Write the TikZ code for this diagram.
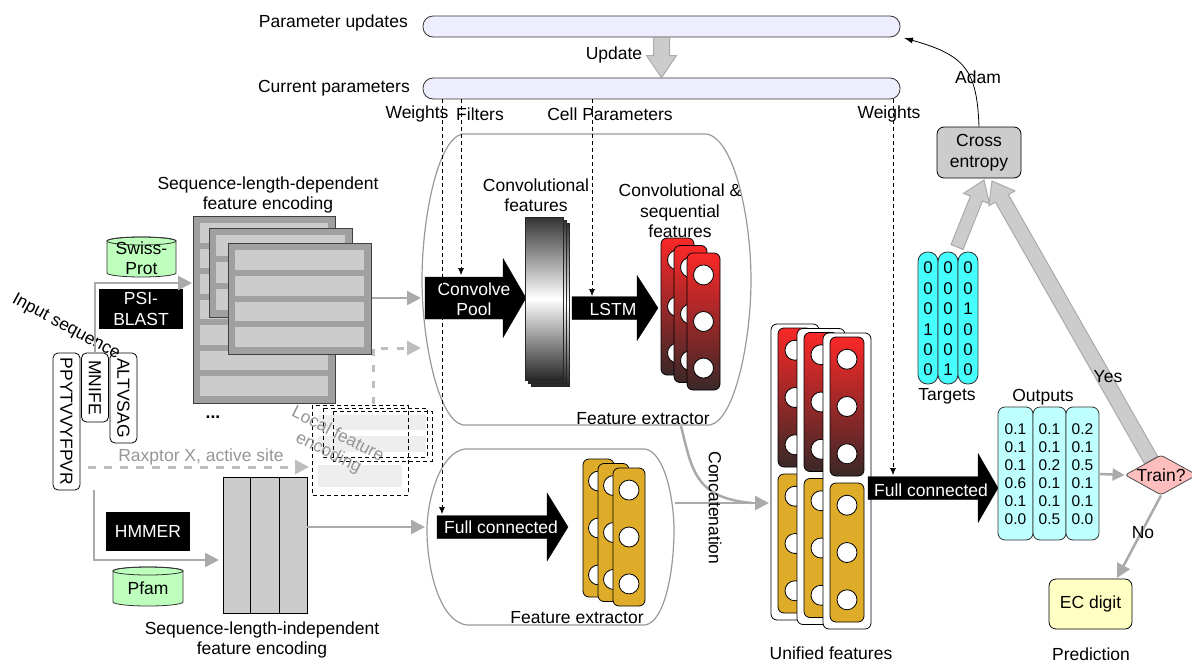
\documentclass[tikz,border=0pt]{standalone}
\usepackage{fontspec}
\setmainfont{Liberation Sans}
\usetikzlibrary{calc,arrows.meta,shapes.geometric}

\definecolor{barfill}{RGB}{238,238,255}
\definecolor{lightgr}{RGB}{204,204,204}
\definecolor{midgr}{RGB}{170,170,170}
\definecolor{dashgr}{RGB}{190,190,190}
\definecolor{framegr}{RGB}{160,160,160}
\definecolor{dbgreen}{RGB}{190,255,190}
\definecolor{gold}{RGB}{222,172,40}
\definecolor{redtop}{RGB}{250,40,40}
\definecolor{redbot}{RGB}{58,40,40}
\definecolor{tcyan}{RGB}{70,255,255}
\definecolor{ocyan}{RGB}{190,255,255}
\definecolor{pinkd}{RGB}{255,190,190}
\definecolor{ecyellow}{RGB}{255,255,196}
\definecolor{ltxt}{RGB}{150,150,150}
\definecolor{rowgr}{RGB}{238,238,238}

% block arrow: style, from, to, shaft half width, head half width, head length
\newcommand\fatarrow[6]{%
  \coordinate (fa-h) at ($(#3)!#6!(#2)$);
  \draw[#1] ($(#2)!#4!90:(#3)$) -- ($(fa-h)!#4!90:(#3)$) -- ($(fa-h)!#5!90:(#3)$) -- (#3)
    -- ($(fa-h)!#5!-90:(#3)$) -- ($(fa-h)!#4!-90:(#3)$) -- ($(#2)!#4!-90:(#3)$) -- cycle;}

% encoding frame with light rows: x0 y0 x1 y1 rows
\newcommand\encframe[5]{%
  \filldraw[fill=framegr, draw=black!75, line width=1pt] (#1,#2) rectangle (#3,#4);
  \pgfmathsetmacro\encrh{((#4-#2)-14-(#5-1)*6)/#5}
  \foreach \ri in {1,...,#5} {
    \fill[lightgr] ({#1+7},{#2+7+(\ri-1)*(\encrh+6)}) rectangle ({#3-7},{#2+7+(\ri-1)*(\encrh+6)+\encrh});
  }}

% database cylinder: x0 y0 x1 y1
\newcommand\dbcyl[4]{%
  \pgfmathsetmacro\cylcx{(#1+#3)/2}
  \pgfmathsetmacro\cylrx{(#3-#1)/2}
  \filldraw[fill=dbgreen, draw=black!80, line width=0.8pt] (#1,{#2+4}) -- (#1,{#4-4})
    arc[start angle=180, end angle=360, x radius=\cylrx pt, y radius=4pt] -- (#3,{#2+4})
    arc[start angle=0, end angle=180, x radius=\cylrx pt, y radius=4pt] -- cycle;
  \draw[black!80, line width=0.8pt] (\cylcx,{#2+4}) ellipse[x radius=\cylrx pt, y radius=4pt];}

% convolution slab: x0 y0 x1 y1
\newcommand\convslab[4]{%
  \shade[top color=black!80, bottom color=black!85, middle color=white] (#1,#2) rectangle (#3,#4);
  \draw[black!85, line width=0.5pt] (#1,#2) rectangle (#3,#4);}

% feature column with three units: style, x, y, w, h
\newcommand\featcol[5]{%
  \draw[#1, rounded corners=6pt, line width=0.8pt] ({#2},{#3}) rectangle ({#2+#4},{#3+#5});
  \foreach \fr in {0.16,0.5,0.84}
    \draw[fill=white, line width=0.8pt] ({#2+#4/2},{#3+\fr*#5}) circle[radius=10pt];}

% unified feature column: x, y
\newcommand\unicol[2]{%
  \draw[fill=white, rounded corners=6pt, line width=0.8pt] ({#1},{#2}) rectangle ({#1+48},{#2+296});
  \featcol{redsh}{#1+7}{#2+4}{34}{139}
  \featcol{goldsh}{#1+7}{#2+150}{34}{139}}

\begin{document}
\begin{tikzpicture}[x=1pt,y=-1pt,
  every node/.style={font=\fontsize{17.5}{20.5}\selectfont, inner sep=0pt, align=center},
  bar/.style={draw=black!80, fill=barfill, line width=0.8pt, rounded corners=10pt,
    minimum width=477pt, minimum height=21pt},
  blackbox/.style={fill=black, text=white},
  garr/.style={draw=midgr, line width=2.5pt, -{Triangle[length=14pt,width=14pt]}},
  gdash/.style={draw=dashgr, line width=3pt, dash pattern=on 8pt off 8pt,
    -{Triangle[length=14pt,width=14pt]}},
  param/.style={draw=black, line width=0.7pt, dash pattern=on 4pt off 3pt,
    -{Latex[length=7pt,width=6pt]}},
  blk/.style={fill=black, draw=black},
  gblk/.style={fill=lightgr, draw=midgr, line width=1pt},
  fe/.style={draw=black!40, line width=1.2pt},
  redsh/.style={top color=redtop, bottom color=redbot, draw=black},
  goldsh/.style={fill=gold, draw=black},
  seqbox/.style={draw, fill=white, rounded corners=5pt, rotate=-90, minimum height=27pt, line width=0.8pt},
  lfebox/.style={draw=black, line width=0.8pt, dash pattern=on 4pt off 3pt},
  numcol/.style={font=\fontsize{15.5}{18}\selectfont},
  bitcol/.style={font=\fontsize{17}{20.4}\selectfont}
]
\useasboundingbox (0,0) rectangle (1192,664);

% ---------- parameters ----------
\node[bar] (pu) at (661.5,26.5) {};
\node[bar] (cp) at (661.5,88.5) {};
\node[anchor=east] (pulbl) at (408,23) {Parameter updates};
\node[anchor=east] (cplbl) at (410,88) {Current parameters};
\fatarrow{gblk}{pu.south}{cp.north}{8pt}{15pt}{22pt}
\node (updlbl) at (614,55) {Update};

\node (wl1) at (417,114) {Weights};
\node (fl) at (480,114) {Filters};
\node (cl) at (610,114) {Cell Parameters};
\node (wl2) at (889,114) {Weights};

% ---------- sequence-length-dependent encoding ----------
\encframe{193}{216}{335}{403}{7}
\encframe{209}{228}{352}{317}{3}
\encframe{228}{243}{371}{354}{4}
\coordinate (enc) at (372,298);
\node (sldl) at (268,195) {Sequence-length-dependent\\feature encoding};

\dbcyl{107}{237}{176}{277}
\node (sp) at (141.5,258) {Swiss-\\Prot};
\node[blackbox, minimum width=84pt, minimum height=40pt] (psi) at (141,309) {PSI-\\BLAST};

% input sequences
\node[seqbox, minimum width=137pt] (s1) at (66.5,421.5) {PPYTVVYFPVR};
\node[seqbox, minimum width=69pt] (s2) at (95,387.5) {MNIFE};
\node[seqbox, minimum width=90pt] (s3) at (123.5,398) {ALTVSAG};
\node[rotate=-28.5] (inseq) at (66,327) {Input sequence};
\node (dots) at (213,417) {\textbf{...}};

\coordinate (sldIn) at (192,283);
\draw[garr] (s2.west) |- (sldIn);

% ---------- sequence-length-independent encoding ----------
\coordinate (lowStart) at (94,490);
\coordinate (sliIn) at (219,560);
\draw[garr] (lowStart) |- (sliIn);
\node[blackbox, minimum width=84pt, minimum height=39pt] (hmm) at (148,531.5) {HMMER};
\dbcyl{113}{567}{183}{606}
\node (pfam) at (148,588) {Pfam};
\node[draw, fill=lightgr, minimum width=84pt, minimum height=136pt, line width=0.8pt] (sli) at (265,545) {};
\draw[line width=0.8pt] ($(sli.north west)!1/3!(sli.north east)$) -- ($(sli.south west)!1/3!(sli.south east)$);
\draw[line width=0.8pt] ($(sli.north west)!2/3!(sli.north east)$) -- ($(sli.south west)!2/3!(sli.south east)$);
\node (slil) at (262,640) {Sequence-length-independent\\feature encoding};

% ---------- local feature encoding ----------
\fill[rowgr] (318,415) rectangle (426,430);
\fill[rowgr] (318,436) rectangle (426,452);
\fill[rowgr] (318,465) rectangle (402,487);
\draw[lfebox] (312,405) rectangle (408,495);
\draw[lfebox] (323,408) rectangle (427,457);
\draw[lfebox] (333,411) rectangle (432,461);
\node[text=ltxt, rotate=-27] (lfe) at (333,444) {Local feature\\encoding};
\node[text=ltxt] (rax) at (201,457) {Raxptor X, active site};
\coordinate (raxA) at (88,467);
\coordinate (raxB) at (309,467);
\draw[gdash] (raxA) -- (raxB);

% ---------- upper feature extractor ----------
\draw[fe] (462,134) -- (707,134) .. controls (735,140) and (751,220) .. (751,280)
  .. controls (751,340) and (735,420) .. (710,425) -- (463,425)
  .. controls (438,420) and (422,340) .. (422,280) .. controls (422,220) and (437,140) .. (462,134) -- cycle;
\node (fe1l) at (643,419) {Feature extractor};
\coordinate (fe1in) at (421,298);
\draw[garr] (enc) -- (fe1in);
\coordinate (lfeTop) at (373,404);
\coordinate (fe1in2) at (421,348);
\draw[gdash, dash pattern=on 7pt off 9pt] (lfeTop) |- (fe1in2);

\coordinate (cpA) at (425,298);
\coordinate (cpB) at (526,298);
\fatarrow{blk}{cpA}{cpB}{21pt}{39.5pt}{23pt}
\node[text=white] (cvp) at (474,299) {Convolve\\Pool};

\foreach \o in {6,3,0} {\convslab{525+\o}{217+\o}{563+\o}{380+\o}}
\node (cfl) at (536,195) {Convolutional\\features};

\coordinate (lsA) at (572,308);
\coordinate (lsB) at (658,308);
\fatarrow{blk}{lsA}{lsB}{11.5pt}{32.5pt}{21pt}
\node[text=white] (lstm) at (613,309) {LSTM};

\featcol{redsh}{661}{238}{33}{137}
\featcol{redsh}{674}{245.5}{33}{137}
\featcol{redsh}{687}{253}{33}{137}
\node (csl) at (680,211) {Convolutional \&\\sequential\\features};

% ---------- lower feature extractor ----------
\draw[fe] (465,449) -- (645,449) .. controls (665,452) and (674,500) .. (674,530)
  .. controls (674,570) and (665,622) .. (645,625) -- (467,625)
  .. controls (440,622) and (427,570) .. (427,530) .. controls (427,500) and (440,452) .. (465,449) -- cycle;
\coordinate (fe2in) at (425,527);
\draw[garr] (sli.east |- fe2in) -- (fe2in);
\coordinate (fcA1) at (437,527);
\coordinate (fcB1) at (568,527);
\fatarrow{blk}{fcA1}{fcB1}{11.5pt}{34pt}{21pt}
\node[text=white] (fc1) at (501,527) {Full connected};
\featcol{goldsh}{583}{459}{31}{138}
\featcol{goldsh}{598}{463.5}{31}{138}
\featcol{goldsh}{613}{468}{32}{138}
\node (fe2l) at (577,618) {Feature extractor};

% ---------- concatenation ----------
\coordinate (fe1out) at (681,426);
\coordinate (fe2out) at (675,503);
\coordinate (ufin) at (769,503);
\draw[draw=midgr, line width=2.5pt] (fe1out) .. controls (692,470) and (695,498) .. (752,503);
\draw[garr] (fe2out) -- (ufin);
\node[rotate=-90] (concat) at (715,508) {Concatenation};

% ---------- unified features ----------
\unicol{771}{324}
\unicol{797}{328.5}
\unicol{823}{333}
\node (ufl) at (831,653) {Unified features};

\coordinate (fcA2) at (868,488);
\coordinate (fcB2) at (998,488);
\fatarrow{blk}{fcA2}{fcB2}{11.5pt}{34.5pt}{20pt}
\node[text=white] (fc2) at (931,490) {Full connected};

% ---------- parameter feeds ----------
\coordinate (wL) at (442,514);
\coordinate (fF) at (461,275);
\coordinate (cC) at (592,296);
\coordinate (wR) at (893,475);
\draw[param] (cp.south -| wL) -- (wL);
\draw[param] (cp.south -| fF) -- (fF);
\draw[param] (cp.south -| cC) -- (cC);
\draw[param] (cp.south -| wR) -- (wR);

% ---------- outputs ----------
\draw[fill=ocyan, draw=black!80, line width=0.8pt, rounded corners=7pt] (998,407) rectangle (1033,540);
\draw[fill=ocyan, draw=black!80, line width=0.8pt, rounded corners=7pt] (1033,407) rectangle (1066,540);
\draw[fill=ocyan, draw=black!80, line width=0.8pt, rounded corners=7pt] (1066,407) rectangle (1099,540);
\node[numcol] (o1) at (1015.5,474) {0.1\\0.1\\0.1\\0.6\\0.1\\0.0};
\node[numcol] (o2) at (1049.5,474) {0.1\\0.1\\0.2\\0.1\\0.1\\0.5};
\node[numcol] (o3) at (1082.5,474) {0.2\\0.1\\0.5\\0.1\\0.1\\0.0};
\node (outl) at (1043,397) {Outputs};

% ---------- targets ----------
\draw[fill=tcyan, draw=black!80, line width=0.8pt, rounded corners=9.5pt] (918,252) rectangle (938,384);
\draw[fill=tcyan, draw=black!80, line width=0.8pt, rounded corners=9.5pt] (938,252) rectangle (958,384);
\draw[fill=tcyan, draw=black!80, line width=0.8pt, rounded corners=9.5pt] (958,252) rectangle (978,384);
\node[bitcol] (t1) at (928,319) {0\\0\\0\\1\\0\\0};
\node[bitcol] (t2) at (948,319) {0\\0\\0\\0\\0\\1};
\node[bitcol] (t3) at (968,319) {0\\0\\1\\0\\0\\0};
\node (tgl) at (947,396) {Targets};

% ---------- loss and decision ----------
\node[draw, fill=lightgr, rounded corners=7pt, minimum width=84pt, minimum height=51pt, line width=0.8pt]
  (ce) at (979,152.5) {Cross\\entropy};
\coordinate (tgA) at (957,247);
\coordinate (ceB1) at (984,180);
\fatarrow{gblk}{tgA}{ceB1}{6.5pt}{14pt}{20pt}
\coordinate (trTop) at (1151,460);
\coordinate (ceB2) at (992,181);
\fatarrow{gblk}{trTop}{ceB2}{7.5pt}{15pt}{20pt}
\node (yes) at (1108,377) {Yes};

\node[diamond, draw=black!70, fill=pinkd, aspect=1.8, line width=0.8pt, rounded corners=3pt]
  (train) at (1161,475) {Train?};
\coordinate (outR) at (1100,474);
\draw[garr, -{Triangle[length=12pt,width=12pt]}] (outR) -- (train.west);

\node[draw, fill=ecyellow, rounded corners=7pt, minimum width=83pt, minimum height=50pt, line width=0.8pt]
  (ec) at (1090.5,604) {EC digit};
\coordinate (ecIn) at (1117,578);
\draw[garr] (train.south) -- (ecIn);
\node (no) at (1143,533) {No};
\node (pred) at (1091,654) {Prediction};

\coordinate (adamEnd) at (904,38);
\draw[black, line width=0.8pt, -{Latex[length=9pt,width=6pt]}] (ce.north) .. controls (977,70) and (965,55) .. (adamEnd);
\node (adam) at (978,77) {Adam};

\end{tikzpicture}
\end{document}
